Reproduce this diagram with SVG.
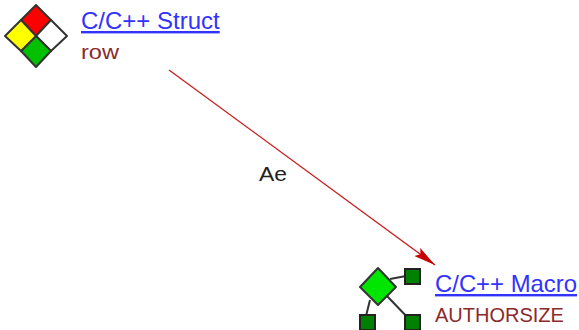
<svg xmlns="http://www.w3.org/2000/svg" width="579" height="330" viewBox="0 0 579 330">
<defs>
<style>
.t{font-family:"Liberation Sans",Arial,sans-serif}
.n{font-size:24px;fill:#3333ff;text-decoration:underline}
.s{font-size:20px;fill:#8b2a2a}
.o{stroke:#333;stroke-width:2;stroke-linejoin:round}
.k{fill:#008000;stroke:#222;stroke-width:2}
</style>
<marker id="a" markerUnits="userSpaceOnUse" markerWidth="24" markerHeight="14" refX="22" refY="7" orient="auto"><path d="M0 2L22 7L0 12L4 7Z" fill="#c80000"/></marker>
</defs>
<rect width="579" height="330" fill="#fff"/>
<g id="connectors">
<line x1="169" y1="70" x2="435" y2="265" stroke="#c81e1e" stroke-width="1.3" marker-end="url(#a)"/>
<text class="t" x="259" y="181" font-size="20" fill="#222" textLength="28" lengthAdjust="spacingAndGlyphs">Ae</text>
</g>
<g id="struct">
<path class="o" fill="#ff0000" d="M36 5L51 20L36 36L21 20Z"/>
<path class="o" fill="#ffffff" d="M51 20L67 36L51 51L36 36Z"/>
<path class="o" fill="#00c000" d="M36 36L51 51L36 67L21 51Z"/>
<path class="o" fill="#ffff00" d="M21 20L36 36L21 51L5 36Z"/>
<text class="t n" x="81" y="29">C/C++ Struct</text>
<text class="t s" x="81" y="59" font-size="21" textLength="38" lengthAdjust="spacingAndGlyphs">row</text>
</g>
<g id="macro">
<path stroke="#333" stroke-width="2" fill="none" d="M390 279L406 276M370 300L366 316M386 295L412 322"/>
<path fill="#00e600" stroke="#333" stroke-width="2" stroke-linejoin="round" d="M378 268L396 287L378 305L360 287Z"/>
<rect class="k" x="405" y="269" width="15" height="15"/>
<rect class="k" x="360" y="315" width="15" height="15"/>
<rect class="k" x="405" y="315" width="15" height="15"/>
<text class="t n" x="435" y="292" textLength="142" lengthAdjust="spacingAndGlyphs">C/C++ Macro</text>
<text class="t s" x="435" y="322">AUTHORSIZE</text>
</g>
</svg>
